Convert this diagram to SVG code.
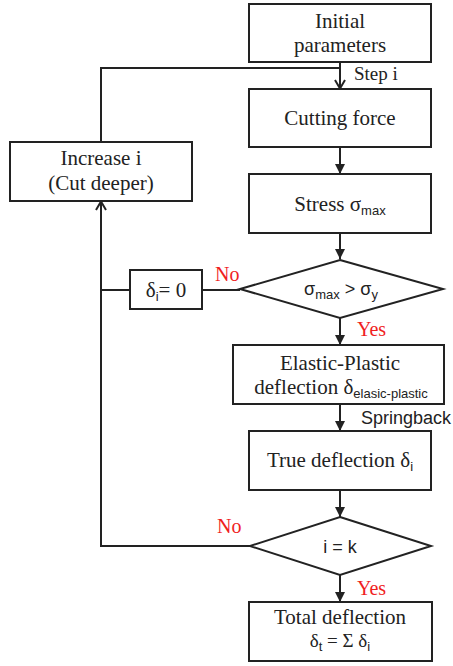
<svg xmlns="http://www.w3.org/2000/svg" width="453" height="666" viewBox="0 0 453 666">
<style>
.box{fill:#fff;stroke:#222;stroke-width:2}
.ln{fill:none;stroke:#222;stroke-width:2}
.t{font-family:"Liberation Serif","DejaVu Serif",serif;font-size:21px;fill:#222;text-anchor:middle}
.s{font-family:"Liberation Sans","DejaVu Sans",sans-serif;font-size:18px;fill:#222;text-anchor:middle}
.sub{font-family:"Liberation Sans","DejaVu Sans",sans-serif;font-size:13px}
.lbl{font-family:"Liberation Serif","DejaVu Serif",serif;font-size:19px;fill:#222}
.red{font-family:"Liberation Serif","DejaVu Serif",serif;font-size:20px;fill:#f01e1e}
</style>
<defs>
<marker id="fill" viewBox="0 0 10 10" refX="10" refY="5" markerWidth="10" markerHeight="10" markerUnits="userSpaceOnUse" orient="auto">
<path d="M0,0 L10,5 L0,10 Z" fill="#222"/>
</marker>
<marker id="open" viewBox="0 0 10 12" refX="10" refY="6" markerWidth="10" markerHeight="12" markerUnits="userSpaceOnUse" orient="auto">
<path d="M1,1 L9.5,6 L1,11" fill="none" stroke="#222" stroke-width="2"/>
</marker>
</defs>

<g id="connectors">
<path class="ln" d="M340,62 V89" marker-end="url(#open)"/>
<path class="ln" d="M340,147 V174" marker-end="url(#fill)"/>
<path class="ln" d="M340,233 V259" marker-end="url(#fill)"/>
<path class="ln" d="M340,318 V345" marker-end="url(#fill)"/>
<path class="ln" d="M340,404 V431" marker-end="url(#fill)"/>
<path class="ln" d="M340,490 V517" marker-end="url(#fill)"/>
<path class="ln" d="M340,575 V602" marker-end="url(#fill)"/>
<path class="ln" d="M101,142 V68 H340"/>
<path class="ln" d="M250,546 H101 V201" marker-end="url(#open)"/>
<path class="ln" d="M240,290 H202"/>
<path class="ln" d="M130,290 H101"/>
<text class="lbl" x="354" y="80">Step i</text>
<text class="s" x="406" y="424">Springback</text>
<text class="red" x="215" y="281">No</text>
<text class="red" x="357" y="336">Yes</text>
<text class="red" x="217" y="533">No</text>
<text class="red" x="357" y="595">Yes</text>
</g>

<g id="initial">
<rect class="box" x="249" y="4" width="182" height="58"/>
<text class="t" x="340" y="28">Initial</text>
<text class="t" x="340" y="52">parameters</text>
</g>

<g id="cutting">
<rect class="box" x="249" y="89" width="182" height="58"/>
<text class="t" x="340" y="125">Cutting force</text>
</g>

<g id="stress">
<rect class="box" x="249" y="174" width="182" height="59"/>
<text class="t" x="340" y="211">Stress σ<tspan class="sub" dy="4">max</tspan></text>
</g>

<g id="decision1">
<polygon class="box" points="340,260 443,289 340,318 240,289"/>
<text class="s" x="341" y="295">σ<tspan class="sub" dy="4">max</tspan><tspan dy="-4"> &gt; σ</tspan><tspan class="sub" dy="4">y</tspan></text>
</g>

<g id="delta0">
<rect class="box" x="130" y="270" width="72" height="39"/>
<text class="t" x="166" y="297">δ<tspan class="sub" dy="4">i</tspan><tspan dy="-4">= 0</tspan></text>
</g>

<g id="increase">
<rect class="box" x="10" y="142" width="182" height="59"/>
<text class="t" x="101" y="165">Increase i</text>
<text class="t" x="101" y="190">(Cut deeper)</text>
</g>

<g id="elastic">
<rect class="box" x="233" y="345" width="211" height="59"/>
<text class="t" x="340" y="370">Elastic-Plastic</text>
<text class="t" x="341" y="394">deflection δ<tspan class="sub" dy="4">elasic-plastic</tspan></text>
</g>

<g id="true">
<rect class="box" x="249" y="431" width="182" height="59"/>
<text class="t" x="340" y="467">True deflection δ<tspan class="sub" dy="4">i</tspan></text>
</g>

<g id="decision2">
<polygon class="box" points="340,517 431,546 340,575 250,546"/>
<text class="s" x="340" y="553">i = k</text>
</g>

<g id="total">
<rect class="box" x="249" y="602" width="183" height="59"/>
<text class="t" x="340" y="624">Total deflection</text>
<text class="t" x="340" y="647" style="font-size:19px">δ<tspan class="sub" dy="4">t</tspan><tspan dy="-4"> = Σ δ</tspan><tspan class="sub" dy="4">i</tspan></text>
</g>
</svg>
